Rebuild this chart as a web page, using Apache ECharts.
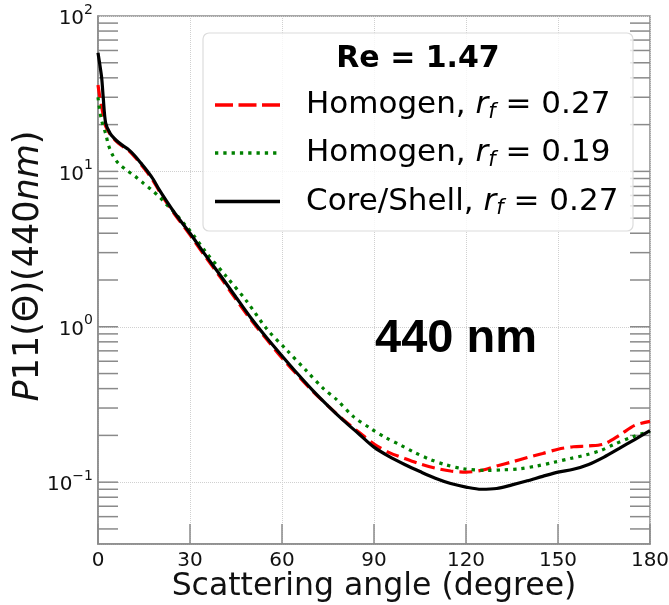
<!DOCTYPE html>
<html><head><meta charset="utf-8">
<script src="https://cdn.jsdelivr.net/npm/echarts@6/dist/echarts.min.js"></script>
<style>html,body{margin:0;padding:0;background:#fff}#c{width:669px;height:605px}</style>
</head><body><div id="c"></div>
<script>
// ---- data ----
const angles = [0, 0.5, 1.2, 1.7, 2.5, 4, 6, 8, 10, 12, 14, 16, 18, 20, 22, 25, 30, 35, 40, 45, 50, 55, 60, 65, 70, 75, 80, 85, 90, 95, 100, 105, 110, 115, 120, 125, 130, 135, 140, 145, 150, 155, 160, 165, 170, 175, 180];
const coreShell027 = [58, 50, 40, 30, 20.5, 17.5, 15.8, 14.7, 13.8, 12.6, 11.3, 10.1, 8.9, 7.6, 6.6, 5.4, 4.0, 2.9, 2.13, 1.55, 1.13, 0.85, 0.65, 0.5, 0.39, 0.31, 0.25, 0.205, 0.168, 0.146, 0.13, 0.117, 0.106, 0.098, 0.093, 0.090, 0.091, 0.096, 0.102, 0.109, 0.116, 0.121, 0.13, 0.145, 0.165, 0.188, 0.215];
const homogen027 = [36, 31, 26, 23, 19.5, 17.3, 15.6, 14.5, 13.6, 12.4, 11.1, 9.9, 8.7, 7.45, 6.45, 5.3, 3.9, 2.83, 2.07, 1.5, 1.1, 0.83, 0.63, 0.49, 0.385, 0.31, 0.252, 0.21, 0.176, 0.155, 0.142, 0.131, 0.123, 0.118, 0.116, 0.119, 0.127, 0.135, 0.144, 0.153, 0.163, 0.169, 0.171, 0.176, 0.2, 0.232, 0.246];
const anglesG = [0, 1, 2.6, 3.4, 4.7, 6.6, 9.3, 12.1, 14.8, 17.5, 20.2, 22.4, 25.1, 28.9, 31.1, 35, 41.9, 48.5, 55, 61.5, 68, 73.5, 77.8, 83.2, 88.7, 94.1, 98.5, 103, 108.3, 113, 119.1, 126.7, 132, 137.6, 143, 148.5, 154, 159.3, 164, 168, 174.6, 180];
const homogen019 = [30, 22, 17.2, 14.8, 12.8, 11.3, 10.2, 9.3, 8.4, 7.6, 6.8, 6.1, 5.4, 4.4, 3.9, 3.05, 2.1, 1.46, 0.97, 0.71, 0.52, 0.40, 0.34, 0.265, 0.223, 0.192, 0.174, 0.156, 0.140, 0.130, 0.122, 0.119, 0.12, 0.122, 0.127, 0.134, 0.142, 0.150, 0.16, 0.174, 0.197, 0.212];
const yTickValues = [0.05,0.06,0.07,0.08,0.09,0.1,0.2,0.3,0.4,0.5,0.6,0.7,0.8,0.9,1,2,3,4,5,6,7,8,9,10,20,30,40,50,60,70,80,90];
const names = ['Homogen, r_f = 0.27', 'Homogen, r_f = 0.19', 'Core/Shell, r_f = 0.27'];
const legendTitle = 'Re = 1.47';
const panelLabel = '440 nm';

const FF = 'DejaVu Sans';
const colors = ['#ff0000', '#008000', '#000000'];
const dashes = [[13, 6], [3.3, 5], null];
const pairs = (xs, ys) => xs.map((x, i) => [x, ys[i]]);
const chart = echarts.init(document.getElementById('c'), null, {renderer: 'canvas'});

// legend (drawn as graphics so the line samples carry no symbol)
const legendRows = [105, 153, 201.5];
const legendGraphics = [];
names.forEach((n, i) => {
  legendGraphics.push({type: 'line', z: 11, shape: {x1: 215, y1: legendRows[i], x2: 280, y2: legendRows[i]},
    style: {stroke: colors[i], lineWidth: 3.3, lineDash: i === 0 ? [18, 5.5] : dashes[i]}});
  legendGraphics.push({type: 'text', z: 11, x: 306, y: legendRows[i],
    style: {text: n.replace('r_f', '{i|r}{sub|f}'), font: '31px "DejaVu Sans"', fill: '#000',
      align: 'left', verticalAlign: 'middle', lineHeight: 36,
      rich: {
        i: {fontFamily: FF, fontSize: 31, fontStyle: 'italic', fill: '#000', lineHeight: 36},
        sub: {fontFamily: FF, fontSize: 21, fontStyle: 'italic', fill: '#000', lineHeight: 22, verticalAlign: 'bottom'}
      }}});
});

chart.setOption({
  animation: false,
  backgroundColor: '#fff',
  grid: {left: 98, right: 19, top: 16, bottom: 61, outerBoundsMode: 'none', containLabel: false,
         show: true, borderColor: '#8a8a8a', borderWidth: 1.5, backgroundColor: 'transparent'},
  xAxis: {
    type: 'value', min: 0, max: 180, interval: 30,
    axisLine: {lineStyle: {color: '#8a8a8a', width: 1.5}},
    axisTick: {inside: true, length: 20, lineStyle: {color: '#8a8a8a', width: 1.5}},
    axisLabel: {fontFamily: FF, fontSize: 20, color: '#111', margin: 7},
    splitLine: {show: true, lineStyle: {color: '#d0d0d0', type: 'dotted', width: 1}},
    name: 'Scattering angle (degree)', nameLocation: 'middle', nameGap: 27, nameMoveOverlap: false,
    nameTextStyle: {fontFamily: FF, fontSize: 31.5, color: '#111'}
  },
  yAxis: {
    type: 'log', logBase: 10, min: 0.04, max: 100,
    axisLine: {lineStyle: {color: '#8a8a8a', width: 1.5}},
    axisTick: {show: false},
    axisLabel: {
      showMinLabel: false, margin: 5,
      formatter: v => {
        const l = Math.log10(v), e = Math.round(l);
        if (Math.abs(l - e) > 1e-6) return '';
        return '{b|10}{s|' + (e < 0 ? '\u2212' + (-e) : e) + '}';
      },
      rich: {
        b: {fontFamily: FF, fontSize: 20, color: '#111', lineHeight: 26, verticalAlign: 'bottom'},
        s: {fontFamily: FF, fontSize: 14, color: '#111', lineHeight: 26, verticalAlign: 'top'}
      }
    },
    splitLine: {show: true, lineStyle: {color: '#d0d0d0', type: 'dotted', width: 1}}
  },
  graphic: [
    {type: 'rect', z: 5, shape: {x: 203, y: 33, width: 430, height: 198, r: 6},
     style: {fill: 'rgba(255,255,255,0.8)', stroke: '#dcdcdc', lineWidth: 1.2}},
    {type: 'text', z: 11, x: 418, y: 59,
     style: {text: legendTitle, font: 'bold 30px "DejaVu Sans"', fill: '#000', align: 'center', verticalAlign: 'middle'}},
    {type: 'text', z: 11, x: 375, y: 339,
     style: {text: panelLabel, font: 'bold 47px "Liberation Sans"', fill: '#000', align: 'left', verticalAlign: 'middle'}},
    {type: 'text', z: 11, x: 29, y: 266, rotation: Math.PI / 2,
     style: {text: '{i|P}11(\u0398)(440{i|nm})', align: 'center', verticalAlign: 'middle',
       font: '35px "DejaVu Sans"', fill: '#111',
       rich: {i: {fontFamily: FF, fontSize: 35, fontStyle: 'italic', fill: '#111'}}}}
  ].concat(legendGraphics),
  series: [
    {name: names[0], type: 'line', data: pairs(angles, homogen027), symbol: 'none', smooth: 0.3, z: 3,
     lineStyle: {color: colors[0], width: 3.2, type: dashes[0]}},
    {name: names[1], type: 'line', data: pairs(anglesG, homogen019), symbol: 'none', smooth: 0.3, z: 3,
     lineStyle: {color: colors[1], width: 3.2, type: dashes[1]}},
    {name: names[2], type: 'line', data: pairs(angles, coreShell027), symbol: 'none', smooth: 0.3, z: 4,
     lineStyle: {color: colors[2], width: 3.2, type: 'solid'}},
    {type: 'custom', silent: true, z: 2, data: yTickValues.map(v => [0, v]), encode: {x: 0, y: 1},
     renderItem: (params, api) => {
       const v = api.value(1);
       const pL = api.coord([0, v]), pR = api.coord([180, v]);
       const st = {stroke: '#8a8a8a', lineWidth: 1.5};
       return {type: 'group', children: [
         {type: 'line', shape: {x1: pL[0], y1: pL[1], x2: pL[0] + 20, y2: pL[1]}, style: st},
         {type: 'line', shape: {x1: pR[0] - 20, y1: pR[1], x2: pR[0], y2: pR[1]}, style: st}
       ]};
     }}
  ]
});
</script></body></html>
